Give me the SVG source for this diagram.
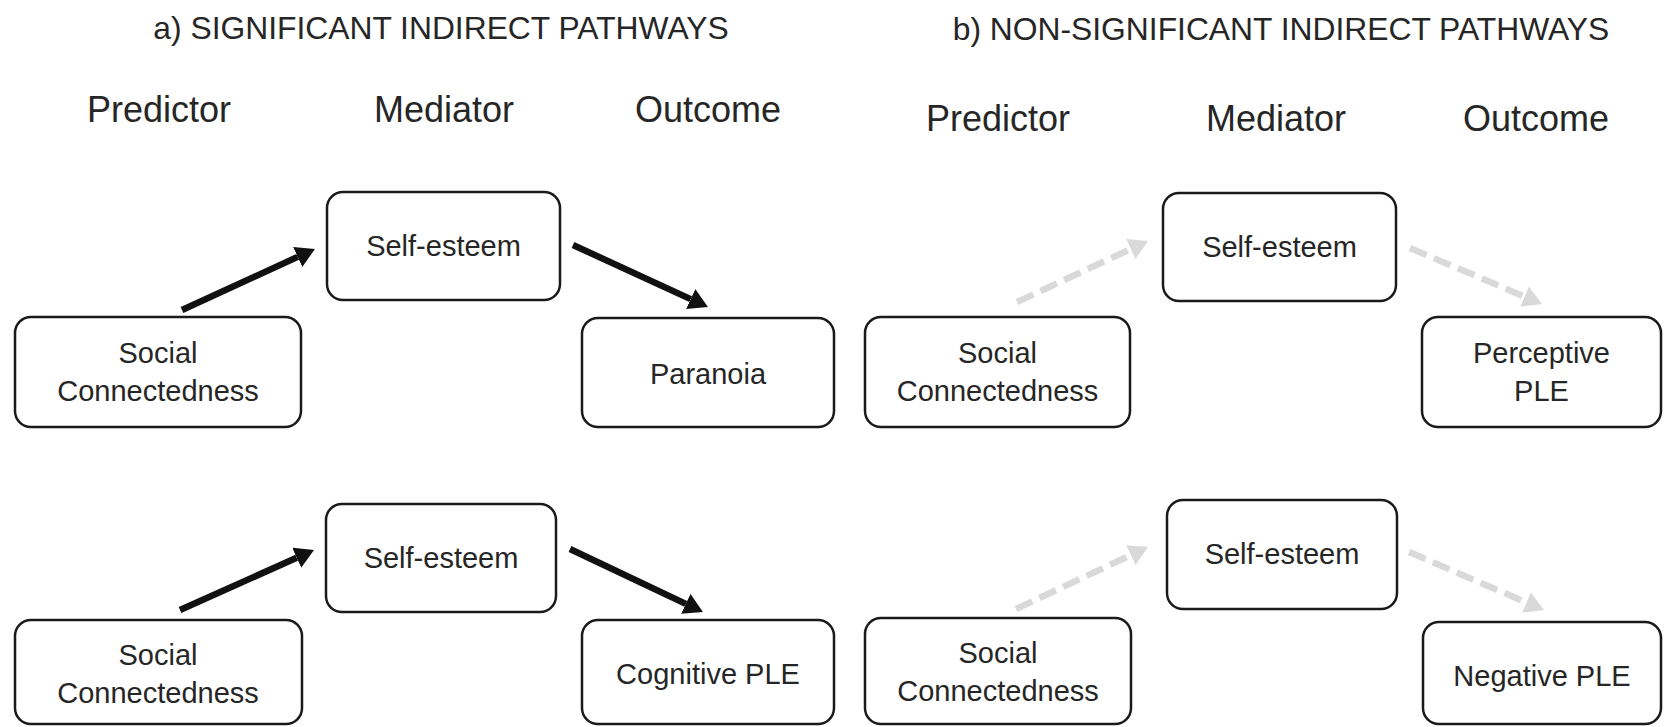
<svg xmlns="http://www.w3.org/2000/svg" width="1664" height="727" viewBox="0 0 1664 727">
<style>
text{font-family:"Liberation Sans",Arial,sans-serif;fill:#262626;text-anchor:middle}
.title{font-size:31.8px}
.head{font-size:36px}
.lbl{font-size:29px}
.box{fill:#fff;stroke:#1a1a1a;stroke-width:2.5}
.sig{stroke:#111;stroke-width:6.5;fill:none}
.ns{stroke:#d9d9d9;stroke-width:6.5;fill:none;stroke-dasharray:18 8}
</style>
<defs>
<marker id="hb" viewBox="0 -11 19 22" refX="0" refY="0" markerWidth="19" markerHeight="22" markerUnits="userSpaceOnUse" orient="auto"><path d="M0,-11 L19,0 L0,11 z" fill="#111"/></marker>
<marker id="hg" viewBox="0 -11 19 22" refX="0" refY="0" markerWidth="19" markerHeight="22" markerUnits="userSpaceOnUse" orient="auto"><path d="M0,-11 L19,0 L0,11 z" fill="#d9d9d9"/></marker>
</defs>
<rect width="1664" height="727" fill="#fff"/>
<g id="titles">
<text class="title" x="441" y="39">a) SIGNIFICANT INDIRECT PATHWAYS</text>
<text class="title" x="1281" y="40">b) NON-SIGNIFICANT INDIRECT PATHWAYS</text>
<text class="head" x="159" y="122">Predictor</text>
<text class="head" x="444" y="122">Mediator</text>
<text class="head" x="708" y="122">Outcome</text>
<text class="head" x="998" y="131">Predictor</text>
<text class="head" x="1276" y="131">Mediator</text>
<text class="head" x="1536" y="131">Outcome</text>
</g>
<g id="connectors">
<path class="sig" d="M182,310 L297.7,256.9" marker-end="url(#hb)"/>
<path class="sig" d="M573,245 L690.7,299.1" marker-end="url(#hb)"/>
<path class="sig" d="M180,610 L296.7,557.8" marker-end="url(#hb)"/>
<path class="sig" d="M570,549 L685.8,603.9" marker-end="url(#hb)"/>
<path class="ns" d="M1017,302 L1130.8,249" marker-end="url(#hg)"/>
<path class="ns" d="M1410,248 L1524.5,296.6" marker-end="url(#hg)"/>
<path class="ns" d="M1016,609 L1130.8,555.1" marker-end="url(#hg)"/>
<path class="ns" d="M1409,552 L1526.5,602.5" marker-end="url(#hg)"/>
</g>
<g id="a-se1"><rect class="box" x="327" y="192" width="233" height="108" rx="16"/><text class="lbl" x="443.5" y="256">Self-esteem</text></g>
<g id="a-sc1"><rect class="box" x="15" y="317" width="286" height="110" rx="16"/><text class="lbl" x="158" y="363">Social</text><text class="lbl" x="158" y="401">Connectedness</text></g>
<g id="a-paranoia"><rect class="box" x="582" y="318" width="252" height="109" rx="16"/><text class="lbl" x="708" y="384">Paranoia</text></g>
<g id="a-se2"><rect class="box" x="326" y="504" width="230" height="108" rx="16"/><text class="lbl" x="441" y="568">Self-esteem</text></g>
<g id="a-sc2"><rect class="box" x="15" y="620" width="287" height="104" rx="16"/><text class="lbl" x="158" y="665">Social</text><text class="lbl" x="158" y="703">Connectedness</text></g>
<g id="a-cog"><rect class="box" x="582" y="620" width="252" height="104" rx="16"/><text class="lbl" x="708" y="684">Cognitive PLE</text></g>
<g id="b-se1"><rect class="box" x="1163" y="193" width="233" height="108" rx="16"/><text class="lbl" x="1279.5" y="257">Self-esteem</text></g>
<g id="b-sc1"><rect class="box" x="865" y="317" width="265" height="110" rx="16"/><text class="lbl" x="997.5" y="363">Social</text><text class="lbl" x="997.5" y="401">Connectedness</text></g>
<g id="b-perc"><rect class="box" x="1422" y="317" width="239" height="110" rx="16"/><text class="lbl" x="1541.5" y="363">Perceptive</text><text class="lbl" x="1541.5" y="401">PLE</text></g>
<g id="b-se2"><rect class="box" x="1167" y="500" width="230" height="109" rx="16"/><text class="lbl" x="1282" y="564">Self-esteem</text></g>
<g id="b-sc2"><rect class="box" x="865" y="618" width="266" height="106" rx="16"/><text class="lbl" x="998" y="663">Social</text><text class="lbl" x="998" y="701">Connectedness</text></g>
<g id="b-neg"><rect class="box" x="1423" y="622" width="238" height="102" rx="16"/><text class="lbl" x="1542" y="686">Negative PLE</text></g>
</svg>
